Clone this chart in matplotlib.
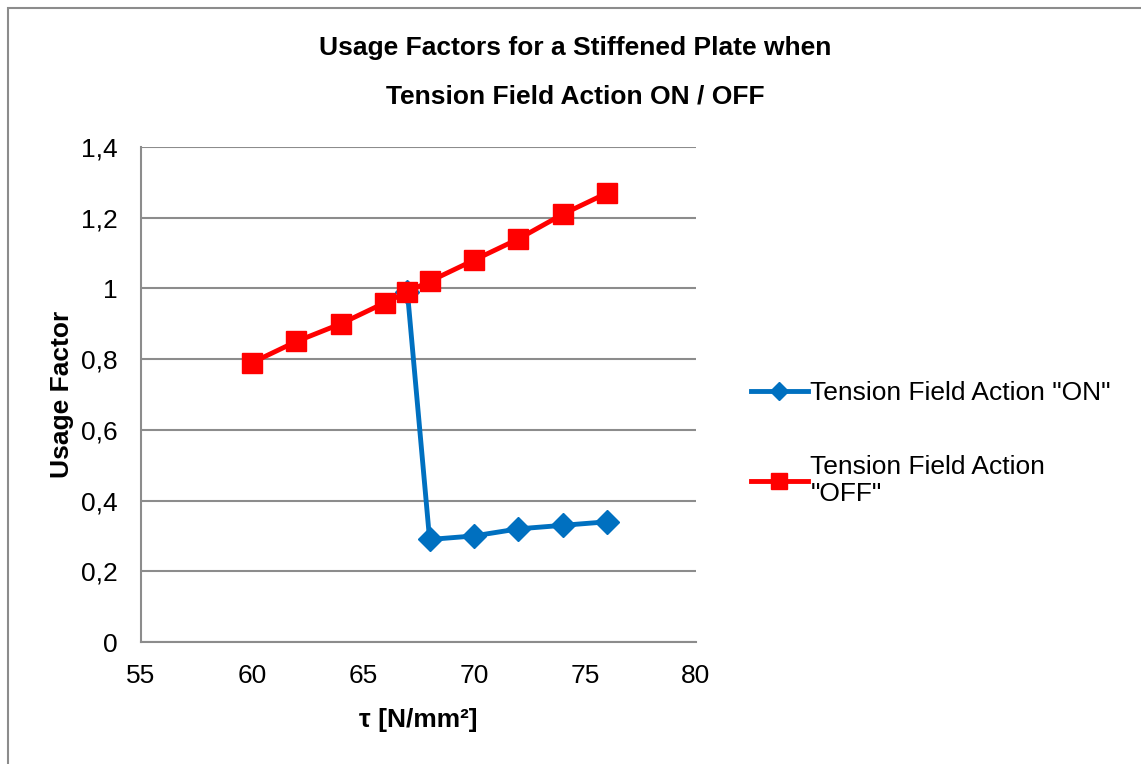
import matplotlib
matplotlib.use('Agg')
import matplotlib.pyplot as plt
from matplotlib.patches import Rectangle

plt.rcParams['font.family'] = ['Liberation Sans', 'DejaVu Sans']

# shear stress [N/mm2] and usage factors
tau_on = [67, 68, 70, 72, 74, 76]
usage_on = [0.99, 0.29, 0.30, 0.32, 0.33, 0.34]
tau_off = [60, 62, 64, 66, 67, 68, 70, 72, 74, 76]
usage_off = [0.79, 0.85, 0.90, 0.96, 0.99, 1.02, 1.08, 1.14, 1.21, 1.27]

x_ticks = [55, 60, 65, 70, 75, 80]
y_ticks = [0, 0.2, 0.4, 0.6, 0.8, 1.0, 1.2, 1.4]
y_labels = ['0', '0,2', '0,4', '0,6', '0,8', '1', '1,2', '1,4']

W, H = 1141, 764
fig = plt.figure(figsize=(W / 100, H / 100), dpi=100)

# chart area border (runs off the right and bottom edges)
fig.patches.append(Rectangle((8 / W, -0.05), 1.1, 1 - 8 / H + 0.05,
                             transform=fig.transFigure, fill=False,
                             edgecolor='#8c8c8c', linewidth=1.5))

ax = fig.add_axes([141 / W, 1 - 642 / H, (696 - 141) / W, (642 - 147) / H])

ax.plot(tau_on, usage_on, color='#0070c0', linewidth=3.5, marker='D',
        markersize=12, label='Tension Field Action "ON"', zorder=3)
ax.plot(tau_off, usage_off, color='#ff0000', linewidth=3.5, marker='s',
        markersize=14, label='Tension Field Action\n"OFF"', zorder=4)

ax.set_xlim(55, 80)
ax.set_ylim(0, 1.4)
ax.set_xticks(x_ticks)
ax.set_yticks(y_ticks)
ax.set_yticklabels(y_labels)
ax.tick_params(length=0, labelsize=19, pad=17)
ax.tick_params(axis='x', pad=16)

ax.grid(axis='y', color='#8c8c8c', linewidth=1.5)
ax.set_axisbelow(True)
for side in ['top', 'right']:
    ax.spines[side].set_visible(False)
for side in ['left', 'bottom']:
    ax.spines[side].set_color('#8c8c8c')
    ax.spines[side].set_linewidth(1.5)

ax.set_xlabel('τ [N/mm²]', fontsize=19, fontweight='bold', labelpad=14)
ax.set_ylabel('Usage Factor', fontsize=19, fontweight='bold', labelpad=5)

fig.text(575 / W, 1 - 48 / H, 'Usage Factors for a Stiffened Plate when',
         ha='center', va='center', fontsize=19, fontweight='bold')
fig.text(575 / W, 1 - 97 / H, 'Tension Field Action ON / OFF',
         ha='center', va='center', fontsize=19, fontweight='bold')

leg = fig.legend(loc='upper left', bbox_to_anchor=(751 / W, 1 - 381 / H),
                 frameon=False, fontsize=19, handlelength=2.15,
                 handletextpad=0.1, labelspacing=1.9, borderpad=0,
                 borderaxespad=0)
for t in leg.get_texts():
    t.set_linespacing(1.15)
leg.legend_handles[0].set_markersize(9)
leg.legend_handles[1].set_markersize(11)

fig.savefig('out.png', dpi=100)
